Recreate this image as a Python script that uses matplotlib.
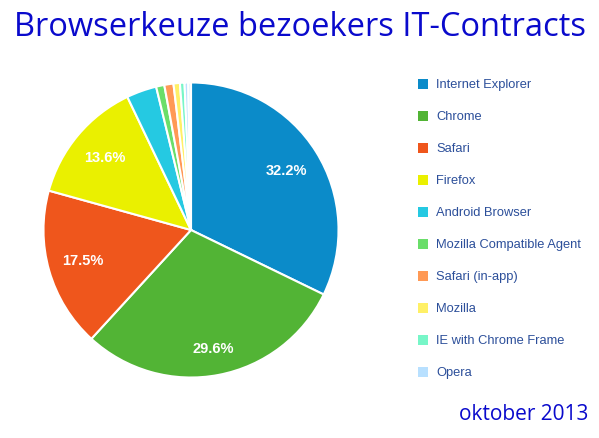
import matplotlib
matplotlib.use("Agg")
import matplotlib.pyplot as plt
from matplotlib.patches import Rectangle
import numpy as np

labels = ["Internet Explorer", "Chrome", "Safari", "Firefox", "Android Browser",
          "Mozilla Compatible Agent", "Safari (in-app)", "Mozilla",
          "IE with Chrome Frame", "Opera"]
values = [32.2, 29.6, 17.5, 13.6, 3.3, 0.9, 1.0, 0.7, 0.5, 0.4]
other_value = [0.3]
colors = ["#0b8bc9", "#52b435", "#ef561c", "#eaf000", "#25c9e2",
          "#6ade6a", "#ff9955", "#fff066", "#77f6c8", "#b8e0ff"]
other_color = ["#dff0fa"]
label_r = [0.76, 0.82, 0.76, 0.76]

W, H = 599, 438
fig = plt.figure(figsize=(W / 100, H / 100), dpi=100)
fig.patch.set_facecolor("white")

cx, cy, r = 191, 230, 149
ax = fig.add_axes([(cx - r) / W, (H - cy - r) / H, 2 * r / W, 2 * r / H])
vals = values + other_value
cols = colors + other_color
wedges, _ = ax.pie(vals, colors=cols, startangle=90, counterclock=False,
                   wedgeprops=dict(edgecolor="white", linewidth=1.5))
ax.set_aspect("equal")
ax.set_xlim(-1.01, 1.01)
ax.set_ylim(-1.01, 1.01)

total = sum(vals)
cum = 0
k = 0
for v in values:
    mid = 90 - (cum + v / 2) / total * 360
    cum += v
    if v / total * 100 > 5:
        rr = label_r[k]
        k += 1
        ax.text(rr * np.cos(np.radians(mid)), rr * np.sin(np.radians(mid)),
                f"{v:.1f}%", color="white", fontsize=10.5, fontweight="bold",
                ha="center", va="center", family="Liberation Sans")

# legend
lx, ly0, dy = 423, 84, 32
for i, (lab, c) in enumerate(zip(labels, colors)):
    y = ly0 + i * dy
    fig.patches.append(Rectangle(((lx - 5) / W, (H - y - 5) / H), 10 / W, 10 / H,
                                 transform=fig.transFigure, facecolor=c,
                                 edgecolor="none"))
    fig.text(436 / W, (H - y - 1) / H, lab, color="#2c4f9a", fontsize=9.3,
             ha="left", va="center", family="Liberation Sans")

fig.text(300 / W, (H - 27) / H, "Browserkeuze bezoekers IT-Contracts",
         color="#0a0acc", fontsize=23.5, ha="center", va="center",
         family="Open Sans")
fig.text(588 / W, (H - 415) / H, "oktober 2013", color="#0a0acc",
         fontsize=15, ha="right", va="center", family="Open Sans")

fig.savefig("out.png", dpi=100, facecolor="white")
